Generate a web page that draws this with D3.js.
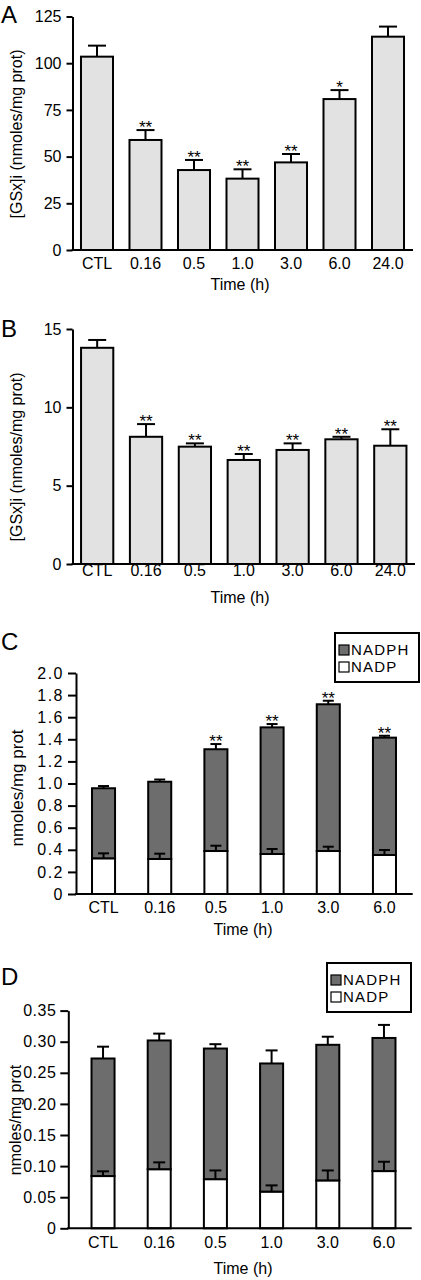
<!DOCTYPE html>
<html>
<head>
<meta charset="utf-8">
<script src="https://cdn.jsdelivr.net/npm/d3@7/dist/d3.min.js"></script>
<style>
  html, body { margin: 0; padding: 0; background: #fff; }
  svg { display: block; }
  text { font-family: "Liberation Sans", Arial, Helvetica, sans-serif; fill: #000; }
</style>
</head>
<body>
<svg id="chart" width="421" height="1280"></svg>
<script>
// ---------- DATA ----------
const catsAB = ["CTL", "0.16", "0.5", "1.0", "3.0", "6.0", "24.0"];
const catsCD = ["CTL", "0.16", "0.5", "1.0", "3.0", "6.0"];

// Panel A: [GSx]i, mean and SEM
const aMean = [103.5, 58.9, 42.8, 38.2, 46.9, 80.8, 114.2];
const aErr  = [5.9, 5.3, 5.4, 5.0, 4.5, 4.8, 5.4];
const aSig  = ["", "**", "**", "**", "**", "*", ""];
const aTicks = [0, 25, 50, 75, 100, 125];

// Panel B
const bMean = [13.8, 8.12, 7.49, 6.64, 7.28, 7.96, 7.55];
const bErr  = [0.5, 0.81, 0.21, 0.38, 0.42, 0.16, 1.05];
const bSig  = ["", "**", "**", "**", "**", "**", "**"];
const bTicks = [0, 5, 10, 15];

// Panel C: stacked NADP (bottom) + NADPH (top)
const cNADP      = [0.323, 0.317, 0.389, 0.362, 0.389, 0.353];
const cNADPErr   = [0.045, 0.048, 0.048, 0.045, 0.039, 0.045];
const cNADPH     = [0.634, 0.699, 0.921, 1.146, 1.328, 1.062];
const cTotalErr  = [0.02, 0.02, 0.047, 0.03, 0.032, 0.017];
const cSig       = ["", "", "**", "**", "**", "**"];
const cTicks = [0, 0.2, 0.4, 0.6, 0.8, 1.0, 1.2, 1.4, 1.6, 1.8, 2.0];

// Panel D
const dNADP      = [0.084, 0.095, 0.079, 0.059, 0.077, 0.092];
const dNADPErr   = [0.0076, 0.011, 0.014, 0.010, 0.016, 0.015];
const dNADPH     = [0.189, 0.207, 0.210, 0.206, 0.218, 0.214];
const dTotalErr  = [0.019, 0.011, 0.007, 0.021, 0.013, 0.021];
const dSig       = ["", "", "", "", "", ""];
const dTicks = [0, 0.05, 0.10, 0.15, 0.20, 0.25, 0.30, 0.35];

const legendKeys = ["NADPH", "NADP"];
const colNADPH = "#6d6d6d";
const colNADP = "#ffffff";
const colBar = "#e2e2e2";

const svg = d3.select("#chart");

function drawPanel(p) {
  const g = svg.append("g");
  const y = d3.scaleLinear().domain([0, p.ymax]).range([p.y0, p.ytop]);
  const x = d3.scaleBand().domain(p.cats).range(p.xRange)
    .paddingInner(p.pi).paddingOuter(p.po);

  // panel letter
  g.append("text").attr("x", 1).attr("y", p.letterY)
    .attr("font-size", p.letterSize).text(p.letter);

  // bars
  p.series.forEach(s => {
    g.selectAll(null).data(p.cats).enter().append("rect")
      .attr("x", d => x(d))
      .attr("width", x.bandwidth())
      .attr("y", (d, i) => y(s.base(i) + s.vals[i]))
      .attr("height", (d, i) => y(s.base(i)) - y(s.base(i) + s.vals[i]))
      .attr("fill", s.color)
      .attr("stroke", "#000").attr("stroke-width", 2);
  });
  // error bars
  p.series.forEach(s => {
    p.cats.forEach((c, i) => {
      const cx = x(c) + x.bandwidth() / 2;
      const top = s.base(i) + s.vals[i];
      const e = s.err[i];
      g.append("line").attr("x1", cx).attr("x2", cx)
        .attr("y1", y(top)).attr("y2", y(top + e))
        .attr("stroke", "#000").attr("stroke-width", 2);
      g.append("line").attr("x1", cx - p.cap / 2).attr("x2", cx + p.cap / 2)
        .attr("y1", y(top + e)).attr("y2", y(top + e))
        .attr("stroke", "#000").attr("stroke-width", 2);
    });
  });
  // significance
  const last = p.series[p.series.length - 1];
  p.cats.forEach((c, i) => {
    if (!p.sig[i]) return;
    const cx = x(c) + x.bandwidth() / 2;
    const top = last.base(i) + last.vals[i] + last.err[i];
    g.append("text").attr("x", cx).attr("y", y(top) + 3)
      .attr("text-anchor", "middle").attr("font-size", 17).text(p.sig[i]);
  });

  // y axis
  const ya = g.append("g").attr("transform", `translate(${p.axisX},0)`)
    .call(d3.axisLeft(y).tickValues(p.ticks).tickFormat(p.fmt)
      .tickSize(p.tickLen).tickSizeOuter(0).tickPadding(p.tickPad));
  ya.select(".domain").attr("stroke-width", 2);
  ya.selectAll(".tick line").attr("stroke-width", 2);
  ya.selectAll(".tick text").attr("font-size", p.tickSize)
    .attr("letter-spacing", p.tickLS || 0)
    .attr("font-family", "Liberation Sans, Arial, sans-serif").attr("fill", "#000");

  // x axis line
  g.append("line").attr("x1", p.axisX - 1).attr("x2", p.xEnd)
    .attr("y1", p.y0).attr("y2", p.y0)
    .attr("stroke", "#000").attr("stroke-width", 2);
  const xa = g.append("g").attr("transform", `translate(0,${p.y0})`)
    .call(d3.axisBottom(x).tickSize(0).tickPadding(0));
  xa.select(".domain").remove();
  xa.selectAll(".tick text").attr("font-size", 16).attr("dy", null)
    .attr("y", p.xLabelY - p.y0)
    .attr("font-family", "Liberation Sans, Arial, sans-serif").attr("fill", "#000");

  // axis titles
  g.append("text").attr("x", p.xTitleX).attr("y", p.xTitleY)
    .attr("text-anchor", "middle").attr("font-size", 16).text("Time (h)");
  g.append("text")
    .attr("transform", `translate(${p.yTitleX},${p.yTitleY}) rotate(-90)`)
    .attr("text-anchor", "middle").attr("font-size", p.yTitleSize).text(p.yTitle);

  // legend
  if (p.legend) {
    const L = p.legend;
    g.append("rect").attr("x", L.x).attr("y", L.y).attr("width", L.w).attr("height", L.h)
      .attr("fill", "#fff").attr("stroke", "#000").attr("stroke-width", 2);
    legendKeys.forEach((k, i) => {
      g.append("rect").attr("x", L.x + 4).attr("y", L.y + 12 + i * 17)
        .attr("width", 10).attr("height", 10)
        .attr("fill", i === 0 ? colNADPH : colNADP)
        .attr("stroke", "#000").attr("stroke-width", 1.2);
      g.append("text").attr("x", L.x + 16).attr("y", L.y + 22 + i * 17)
        .attr("font-size", 15).attr("letter-spacing", 1.2).text(k);
    });
  }
}

const intFmt = d => String(d);

drawPanel({
  letter: "A", letterY: 23, letterSize: 24,
  cats: catsAB, ymax: 125, y0: 250, ytop: 16.5,
  xRange: [72.5, 412.5], pi: 0.34, po: 0.175, xEnd: 413, axisX: 72.5,
  series: [{ vals: aMean, err: aErr, color: colBar, base: () => 0 }],
  sig: aSig, cap: 18, ticks: aTicks, fmt: intFmt, tickLen: 6, tickPad: 5, tickSize: 16,
  xLabelY: 269, xTitleX: 240, xTitleY: 290,
  yTitle: "[GSx]i (nmoles/mg prot)", yTitleX: 22, yTitleY: 134, yTitleSize: 16
});

drawPanel({
  letter: "B", letterY: 337, letterSize: 24,
  cats: catsAB, ymax: 15, y0: 564, ytop: 329,
  xRange: [72.5, 415], pi: 0.34, po: 0.175, xEnd: 415, axisX: 72.5,
  series: [{ vals: bMean, err: bErr, color: colBar, base: () => 0 }],
  sig: bSig, cap: 18, ticks: bTicks, fmt: intFmt, tickLen: 6, tickPad: 5, tickSize: 16,
  xLabelY: 576, xTitleX: 240, xTitleY: 603,
  yTitle: "[GSx]i (nmoles/mg prot)", yTitleX: 22, yTitleY: 457, yTitleSize: 16
});

const fmtC = d => d === 0 ? "0" : d3.format(".1f")(d);
drawPanel({
  letter: "C", letterY: 650, letterSize: 24,
  cats: catsCD, ymax: 2.0, y0: 894, ytop: 673,
  xRange: [76, 412], pi: 0.59, po: 0.285, xEnd: 412.7, axisX: 76,
  series: [
    { vals: cNADP, err: cNADPErr, color: colNADP, base: () => 0 },
    { vals: cNADPH, err: cTotalErr, color: colNADPH, base: i => cNADP[i] }
  ],
  sig: cSig, cap: 11, ticks: cTicks, fmt: fmtC, tickLen: 8, tickPad: 4, tickSize: 16, tickLS: 1.5,
  xLabelY: 913, xTitleX: 243, xTitleY: 935,
  yTitle: "nmoles/mg prot", yTitleX: 23, yTitleY: 788, yTitleSize: 17,
  legend: { x: 335, y: 633, w: 84, h: 49 }
});

const fmtD = d => d === 0 ? "0" : d3.format(".2f")(d);
drawPanel({
  letter: "D", letterY: 985, letterSize: 24,
  cats: catsCD, ymax: 0.35, y0: 1228.3, ytop: 1010.6,
  xRange: [75.5, 411.5], pi: 0.59, po: 0.285, xEnd: 411.7, axisX: 68.3,
  series: [
    { vals: dNADP, err: dNADPErr, color: colNADP, base: () => 0 },
    { vals: dNADPH, err: dTotalErr, color: colNADPH, base: i => dNADP[i] }
  ],
  sig: dSig, cap: 12, ticks: dTicks, fmt: fmtD, tickLen: 8, tickPad: 4, tickSize: 16, tickLS: 0.5,
  xLabelY: 1248, xTitleX: 243, xTitleY: 1274,
  yTitle: "nmoles/mg prot", yTitleX: 21, yTitleY: 1120, yTitleSize: 16,
  legend: { x: 327, y: 963, w: 84, h: 49 }
});
</script>
</body>
</html>
